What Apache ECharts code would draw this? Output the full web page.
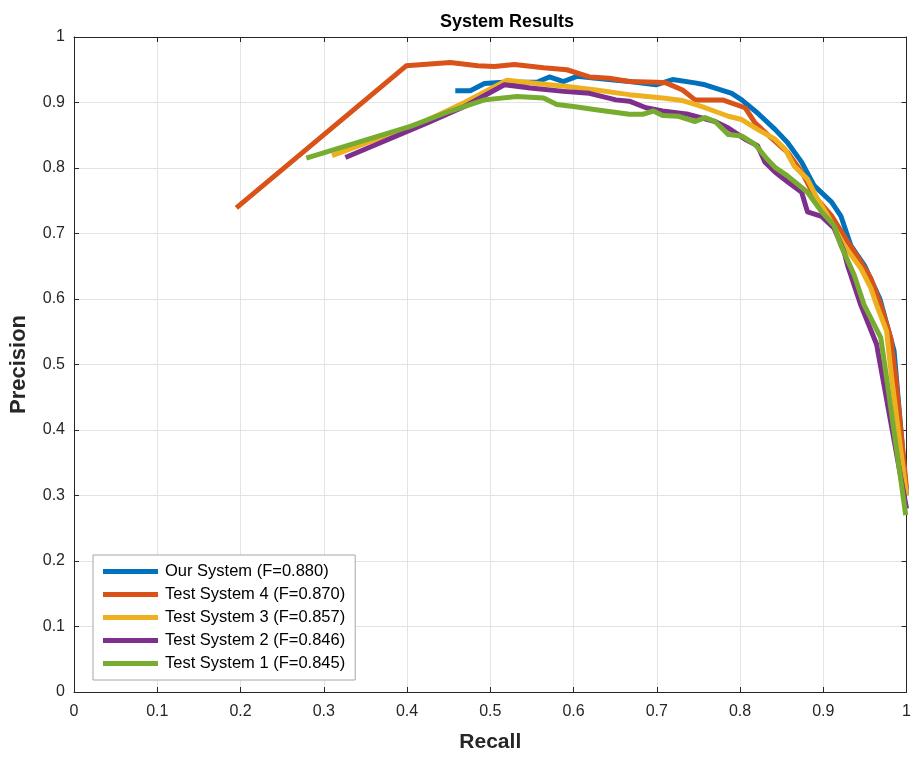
<!DOCTYPE html>
<html>
<head>
<meta charset="utf-8">
<script src="https://cdn.jsdelivr.net/npm/echarts@6/dist/echarts.min.js"></script>
<style>
html,body{margin:0;padding:0;background:#fff;overflow:hidden;}
#chart{width:914px;height:758px;}
</style>
</head>
<body>
<div id="chart"></div>
<script>
const seriesNames = [
  'Our System (F=0.880)',
  'Test System 4 (F=0.870)',
  'Test System 3 (F=0.857)',
  'Test System 2 (F=0.846)',
  'Test System 1 (F=0.845)'
];
const seriesColors = ['#0072BD', '#D95319', '#EDB120', '#7E2F8E', '#77AC30'];
const xTicks = [0, 0.1, 0.2, 0.3, 0.4, 0.5, 0.6, 0.7, 0.8, 0.9, 1];

// [recall, precision]
const ourSystem = [
  [0.458,0.918],[0.476,0.918],[0.493,0.929],[0.516,0.931],[0.556,0.931],[0.571,0.939],
  [0.588,0.932],[0.604,0.940],[0.636,0.936],[0.667,0.932],[0.699,0.927],[0.719,0.935],
  [0.746,0.930],[0.758,0.927],[0.790,0.914],[0.802,0.904],[0.821,0.884],[0.842,0.859],
  [0.857,0.839],[0.874,0.809],[0.889,0.773],[0.910,0.748],[0.921,0.727],[0.933,0.682],
  [0.950,0.650],[0.968,0.600],[0.985,0.521],[1.0,0.300]
];
const testSystem4 = [
  [0.195,0.739],[0.399,0.956],[0.452,0.961],[0.485,0.956],[0.505,0.955],[0.529,0.958],
  [0.564,0.953],[0.592,0.950],[0.619,0.939],[0.643,0.937],[0.667,0.932],[0.699,0.931],
  [0.711,0.930],[0.731,0.919],[0.746,0.904],[0.779,0.904],[0.806,0.892],[0.818,0.869],
  [0.833,0.851],[0.857,0.824],[0.874,0.794],[0.889,0.758],[0.910,0.727],[0.929,0.688],
  [0.940,0.667],[0.957,0.632],[0.969,0.591],[0.981,0.541],[0.987,0.481],[1.0,0.310]
];
const testSystem3 = [
  [0.310,0.819],[0.421,0.871],[0.469,0.900],[0.520,0.934],[0.556,0.929],[0.595,0.924],
  [0.627,0.919],[0.667,0.912],[0.707,0.907],[0.731,0.903],[0.746,0.897],[0.758,0.892],
  [0.786,0.879],[0.802,0.874],[0.821,0.859],[0.842,0.844],[0.854,0.829],[0.865,0.803],
  [0.881,0.783],[0.893,0.753],[0.905,0.728],[0.925,0.682],[0.945,0.647],[0.957,0.617],
  [0.964,0.591],[0.976,0.551],[0.982,0.481],[1.0,0.300]
];
const testSystem2 = [
  [0.326,0.816],[0.425,0.869],[0.469,0.894],[0.517,0.927],[0.548,0.922],[0.588,0.917],
  [0.619,0.914],[0.651,0.904],[0.667,0.902],[0.687,0.892],[0.707,0.887],[0.738,0.882],
  [0.770,0.871],[0.786,0.861],[0.806,0.844],[0.821,0.834],[0.830,0.809],[0.842,0.794],
  [0.857,0.779],[0.874,0.763],[0.881,0.733],[0.898,0.726],[0.913,0.708],[0.925,0.672],
  [0.929,0.652],[0.945,0.591],[0.964,0.531],[1.0,0.280]
];
const testSystem1 = [
  [0.279,0.815],[0.405,0.864],[0.452,0.887],[0.493,0.904],[0.532,0.909],[0.564,0.907],
  [0.580,0.897],[0.600,0.894],[0.627,0.889],[0.667,0.882],[0.683,0.882],[0.696,0.887],
  [0.707,0.880],[0.726,0.879],[0.746,0.871],[0.758,0.877],[0.770,0.871],[0.786,0.851],
  [0.802,0.849],[0.818,0.836],[0.833,0.813],[0.842,0.801],[0.857,0.788],[0.881,0.763],
  [0.898,0.733],[0.913,0.712],[0.921,0.682],[0.937,0.637],[0.949,0.591],[0.969,0.541],
  [0.976,0.480],[0.999,0.270]
];
const seriesData = [ourSystem, testSystem4, testSystem3, testSystem2, testSystem1];

const chart = echarts.init(document.getElementById('chart'), null, {renderer: 'canvas'});
const FONT = 'Liberation Sans, Arial, sans-serif';
const axisColor = '#262626';
const fmt = v => String(+(+v).toFixed(1));

const baseAxis = {
  type: 'value', min: 0, max: 1, interval: 0.1,
  axisLine: {show: true, onZero: false, lineStyle: {color: axisColor, width: 1}},
  axisTick: {show: true, inside: true, length: 5, lineStyle: {color: axisColor}},
  splitLine: {show: true, lineStyle: {color: '#e3e3e3', width: 1}}
};

chart.setOption({
  animation: false,
  backgroundColor: '#fff',
  title: {
    text: 'System Results', left: 502, top: 8, textAlign: 'center',
    textStyle: {fontFamily: FONT, fontSize: 18, fontWeight: 'bold', color: '#000'}
  },
  grid: {left: 73, right: 2, top: 37, bottom: 60, containLabel: false},
  legend: {
    orient: 'vertical', left: 93, top: 555,
    data: seriesNames,
    itemWidth: 55, itemHeight: 5, itemGap: 6,
    icon: 'rect',
    padding: [8, 10, 8, 10],
    backgroundColor: '#fff',
    borderColor: '#a6a6a6', borderWidth: 1,
    textStyle: {fontFamily: FONT, fontSize: 16.5, color: '#000', padding: [0, 0, 0, 2]}
  },
  xAxis: [
    Object.assign({}, baseAxis, {
      position: 'bottom',
      name: 'Recall', nameLocation: 'middle', nameGap: 40,
      nameTextStyle: {fontFamily: FONT, fontSize: 21, fontWeight: 'bold', color: axisColor},
      axisLabel: {fontFamily: FONT, fontSize: 16, color: axisColor, margin: 12, formatter: fmt},
      data: xTicks
    }),
    Object.assign({}, baseAxis, {position: 'top', axisLabel: {show: false}, splitLine: {show: false}})
  ],
  yAxis: [
    Object.assign({}, baseAxis, {
      position: 'left',
      name: 'Precision', nameLocation: 'middle', nameGap: 44,
      nameTextStyle: {fontFamily: FONT, fontSize: 22, fontWeight: 'bold', color: axisColor},
      axisLabel: {fontFamily: FONT, fontSize: 16, color: axisColor, margin: 9, formatter: fmt}
    }),
    Object.assign({}, baseAxis, {position: 'right', axisLabel: {show: false}, splitLine: {show: false}})
  ],
  series: seriesData.map((d, i) => ({
    name: seriesNames[i],
    type: 'line',
    data: d,
    showSymbol: false,
    symbol: 'none',
    smooth: false,
    color: seriesColors[i],
    lineStyle: {width: 5, color: seriesColors[i], join: 'round'},
    itemStyle: {color: seriesColors[i]},
    emphasis: {disabled: true},
    z: 2 + i
  }))
});
</script>
</body>
</html>
